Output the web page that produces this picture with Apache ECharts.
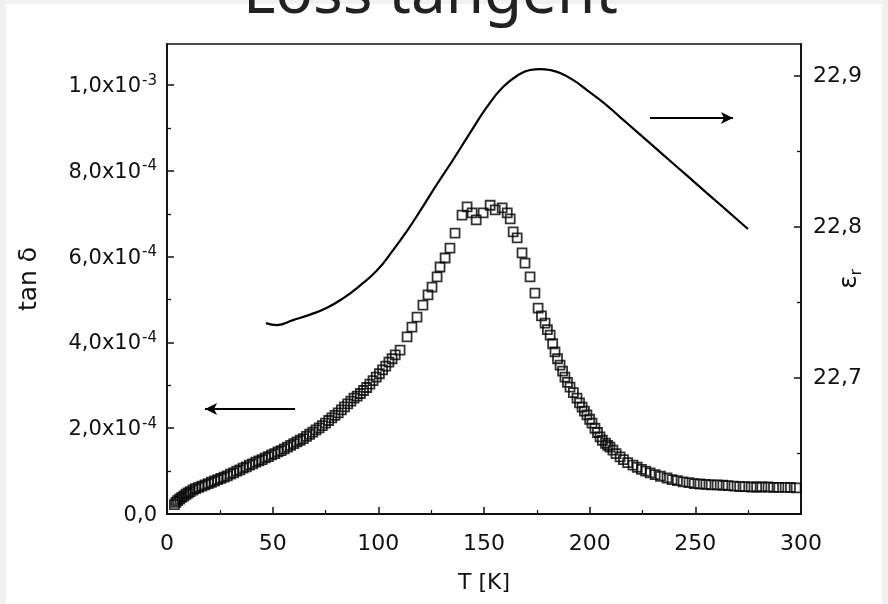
<!DOCTYPE html>
<html><head><meta charset="utf-8">
<script src="https://cdn.jsdelivr.net/npm/echarts@6/dist/echarts.min.js"></script>
<style>html,body{margin:0;padding:0;background:#f1f1f1}#c{width:888px;height:604px}</style>
</head><body><div id="c"></div>
<script>
const titleText = 'Loss tangent';
const xName = 'T [K]';
// tan delta (open squares, left axis)
const tanT = [3.5,4.2,5,6,7,8,9,10,11,12.3,13.5,15,16.5,18,19.5,21,22.5,24,25.5,27,28.5,30,31.5,33,34.5,36,37.5,39,40.5,42,43.5,45,46.5,48,49.5,51,52.5,54,55.5,57,58.5,60,61.5,63,64.5,66,67.5,69,70.5,72,73.5,75,76.5,78,79.5,81,82.5,84,85.5,87,88.5,90,91.5,93,94.5,96,97.5,99,100.5,102,103.5,105,106.5,108,110.3,113.6,115.9,118.3,121.1,123.5,125.4,127.8,129.2,131.6,133.9,136.3,139.6,142.0,144.4,146.3,149.6,152.9,155.3,158.6,161.0,162.4,163.8,165.7,168.0,169.4,171.8,174.1,175.6,177.2,178.9,180.0,181.3,182.5,183.6,184.8,186.0,187.2,188.3,189.5,190.7,192.3,194.0,195.2,196.4,197.5,198.7,200.0,201.1,202.5,203.7,204.9,206.0,207.5,208.5,209.6,211.0,212.5,214.4,216.0,218.0,220.5,222.5,224.5,226.5,228.6,231.0,233.5,236.6,239.0,241.5,244.2,247.0,249.5,252.2,255.0,257.5,260.3,263.0,265.5,268.3,271.0,273.5,276.4,279.0,281.5,284.4,287.0,289.5,292.5,295.0,297.7];
const tanV = [2.2e-5,2.7e-5,3.1e-5,3.5e-5,3.9e-5,4.2e-5,4.6e-5,4.9e-5,5.2e-5,5.6e-5,5.9e-5,6.2e-5,6.5e-5,6.8e-5,7.1e-5,7.4e-5,7.7e-5,8.0e-5,8.3e-5,8.6e-5,8.9e-5,9.3e-5,9.6e-5,1.00e-4,1.03e-4,1.07e-4,1.10e-4,1.14e-4,1.17e-4,1.21e-4,1.24e-4,1.27e-4,1.31e-4,1.34e-4,1.38e-4,1.41e-4,1.45e-4,1.48e-4,1.52e-4,1.56e-4,1.60e-4,1.64e-4,1.68e-4,1.72e-4,1.76e-4,1.81e-4,1.86e-4,1.91e-4,1.96e-4,2.01e-4,2.06e-4,2.12e-4,2.18e-4,2.24e-4,2.30e-4,2.36e-4,2.43e-4,2.50e-4,2.57e-4,2.63e-4,2.70e-4,2.75e-4,2.81e-4,2.88e-4,2.95e-4,3.03e-4,3.11e-4,3.19e-4,3.27e-4,3.36e-4,3.45e-4,3.54e-4,3.62e-4,3.71e-4,3.82e-4,4.13e-4,4.36e-4,4.59e-4,4.87e-4,5.11e-4,5.29e-4,5.53e-4,5.76e-4,5.97e-4,6.20e-4,6.55e-4,6.97e-4,7.16e-4,7.02e-4,6.86e-4,7.02e-4,7.20e-4,7.09e-4,7.14e-4,7.02e-4,6.88e-4,6.58e-4,6.44e-4,6.09e-4,5.85e-4,5.53e-4,5.15e-4,4.80e-4,4.62e-4,4.45e-4,4.30e-4,4.17e-4,3.97e-4,3.78e-4,3.62e-4,3.47e-4,3.33e-4,3.19e-4,3.07e-4,2.96e-4,2.83e-4,2.70e-4,2.59e-4,2.49e-4,2.40e-4,2.31e-4,2.21e-4,2.12e-4,2.00e-4,1.90e-4,1.80e-4,1.72e-4,1.65e-4,1.60e-4,1.56e-4,1.49e-4,1.41e-4,1.33e-4,1.27e-4,1.20e-4,1.14e-4,1.09e-4,1.04e-4,1.00e-4,9.6e-5,9.2e-5,8.8e-5,8.4e-5,8.0e-5,7.8e-5,7.5e-5,7.3e-5,7.1e-5,7.0e-5,6.9e-5,6.8e-5,6.8e-5,6.7e-5,6.6e-5,6.5e-5,6.4e-5,6.4e-5,6.3e-5,6.3e-5,6.3e-5,6.3e-5,6.2e-5,6.2e-5,6.2e-5,6.2e-5,6.1e-5];
// epsilon_r (solid line, right axis)
const epsT = [46.8,52.1,59.6,67.7,75.7,83.3,91.3,99.3,106.9,113.6,119.7,127.8,135.3,143.4,151.4,159.0,167.0,171.8,176.5,181.2,186.0,192.1,198.7,206.8,214.4,222.4,230.0,238.0,246.1,253.6,261.7,268.3,274.9];
const epsV = [22.7364,22.7351,22.7384,22.7420,22.7466,22.7528,22.7612,22.7712,22.7845,22.7975,22.8105,22.8285,22.8444,22.8623,22.8795,22.8927,22.9013,22.9040,22.9046,22.9040,22.9020,22.8974,22.8907,22.8821,22.8728,22.8630,22.8537,22.8439,22.8340,22.8248,22.8149,22.8068,22.7987];
// ticks and labels
const xTicks = [0,50,100,150,200,250,300];
const leftMajor = [0,2e-4,4e-4,6e-4,8e-4,1e-3];
const leftLabels = ['0,0','2,0x10|-4','4,0x10|-4','6,0x10|-4','8,0x10|-4','1,0x10|-3'];
const leftMinor = [1e-4,3e-4,5e-4,7e-4,9e-4];
const rightMajor = [22.7,22.8,22.9];
const rightLabels = ['22,7','22,8','22,9'];
const rightMinor = [22.65,22.75,22.85];
// annotation arrows [from, to]
const arrowLeft = [[60.6,2.45e-4],[18,2.45e-4]];
const arrowRight = [[228.6,22.8722],[267.8,22.8722]];

const FONT = 'DejaVu Sans';
const INK = '#111';
const leftMin = 0, leftMax = 1.096e-3, rightMin = 22.61, rightMax = 22.9212;

const chart = echarts.init(document.getElementById('c'), null, {renderer:'canvas'});
function leftFmt(v){
  const i = leftMajor.findIndex(m => Math.abs(m - v) < 1e-9);
  if (i < 0) return '';
  const s = leftLabels[i];
  if (s.indexOf('|') >= 0) { const p = s.split('|'); return '{b|' + p[0] + '}{s|' + p[1] + '}'; }
  return '{b|' + s + '}';
}
function rightFmt(v){
  const i = rightMajor.findIndex(m => Math.abs(m - v) < 1e-6);
  return i < 0 ? '' : rightLabels[i];
}
const hidden = {show:false};
chart.setOption({
  backgroundColor: '#f1f1f1',
  animation: false,
  graphic: [{type:'rect', shape:{x:6, y:4, width:876, height:600}, style:{fill:'#fff'}, z:-10, silent:true}],
  title: {text: titleText, left: 238, top: -41,
    textStyle:{fontFamily:'Noto Sans', fontSize:62, fontWeight:'normal', color:'#222'}},
  grid: {left:167, right:87, top:44, bottom:90, outerBoundsMode:'none', containLabel:false,
    show:true, borderColor:INK, borderWidth:1.6, backgroundColor:'transparent'},
  xAxis: [{type:'value', min:0, max:300, interval:50,
    axisLine:{show:true, lineStyle:{color:INK, width:1.8}},
    axisTick:{show:true, inside:true, length:7, lineStyle:{color:INK, width:1.5}},
    minorTick:{show:true, splitNumber:2, length:4, lineStyle:{color:INK, width:1.2}},
    splitLine:hidden, minorSplitLine:hidden,
    axisLabel:{fontFamily:FONT, fontSize:22, color:INK, margin:19},
    name:xName, nameLocation:'middle', nameGap:58, nameMoveOverlap:false,
    nameTextStyle:{fontFamily:FONT, fontSize:22, color:INK}}],
  yAxis: [
    {type:'value', position:'left', min:leftMin, max:leftMax,
      axisLine:{show:true, lineStyle:{color:INK, width:1.8}},
      axisTick:{show:true, inside:true, length:7, customValues:leftMajor, lineStyle:{color:INK, width:1.5}},
      splitLine:hidden,
      axisLabel:{customValues:leftMajor, formatter:leftFmt, margin:10,
        rich:{b:{fontFamily:FONT, fontSize:21, color:INK, lineHeight:24, verticalAlign:'bottom'},
              s:{fontFamily:FONT, fontSize:15, color:INK, lineHeight:24, verticalAlign:'top', padding:[0,0,0,1]}}},
      name:'tan δ', nameLocation:'middle', nameRotate:90, nameGap:125, nameMoveOverlap:false,
      nameTextStyle:{fontFamily:FONT, fontSize:25, color:INK}},
    {type:'value', position:'right', min:rightMin, max:rightMax,
      axisLine:{show:true, lineStyle:{color:INK, width:1.8}},
      axisTick:{show:true, inside:true, length:7, customValues:rightMajor, lineStyle:{color:INK, width:1.5}},
      splitLine:hidden,
      axisLabel:{customValues:rightMajor, formatter:rightFmt, fontFamily:FONT, fontSize:22, color:INK, margin:12},
      name:'{e|ε}{r|r}', nameLocation:'middle', nameRotate:90, nameGap:36, nameMoveOverlap:false,
      nameTextStyle:{rich:{e:{fontFamily:FONT, fontSize:25, color:INK, lineHeight:28, verticalAlign:'top'},
                           r:{fontFamily:FONT, fontSize:15, color:INK, lineHeight:28, verticalAlign:'bottom'}}}},
    {type:'value', position:'left', min:leftMin, max:leftMax,
      axisLine:hidden, splitLine:hidden, axisLabel:{show:false},
      axisTick:{show:true, inside:true, length:4, customValues:leftMinor, lineStyle:{color:INK, width:1.3}}},
    {type:'value', position:'right', min:rightMin, max:rightMax,
      axisLine:hidden, splitLine:hidden, axisLabel:{show:false},
      axisTick:{show:true, inside:true, length:4, customValues:rightMinor, lineStyle:{color:INK, width:1.3}}}
  ],
  series: [
    {type:'scatter', name:'tan δ', yAxisIndex:0, symbol:'rect', symbolSize:9,
      itemStyle:{color:'rgba(255,255,255,0)', borderColor:'#000', borderWidth:1.8},
      data: tanT.map((t,i)=>[t, tanV[i]]),
      markLine:{silent:true, symbol:['none','arrow'], symbolSize:[9,12], label:{show:false},
        lineStyle:{color:'#000', width:2, type:'solid'},
        data:[[{coord:arrowLeft[0]},{coord:arrowLeft[1]}]]}},
    {type:'line', name:'εr', yAxisIndex:1, smooth:0.5, showSymbol:false, symbol:'none',
      lineStyle:{color:'#000', width:2.2},
      data: epsT.map((t,i)=>[t, epsV[i]]),
      markLine:{silent:true, symbol:['none','arrow'], symbolSize:[9,12], label:{show:false},
        lineStyle:{color:'#000', width:2, type:'solid'},
        data:[[{coord:arrowRight[0]},{coord:arrowRight[1]}]]}}
  ]
});
</script></body></html>
